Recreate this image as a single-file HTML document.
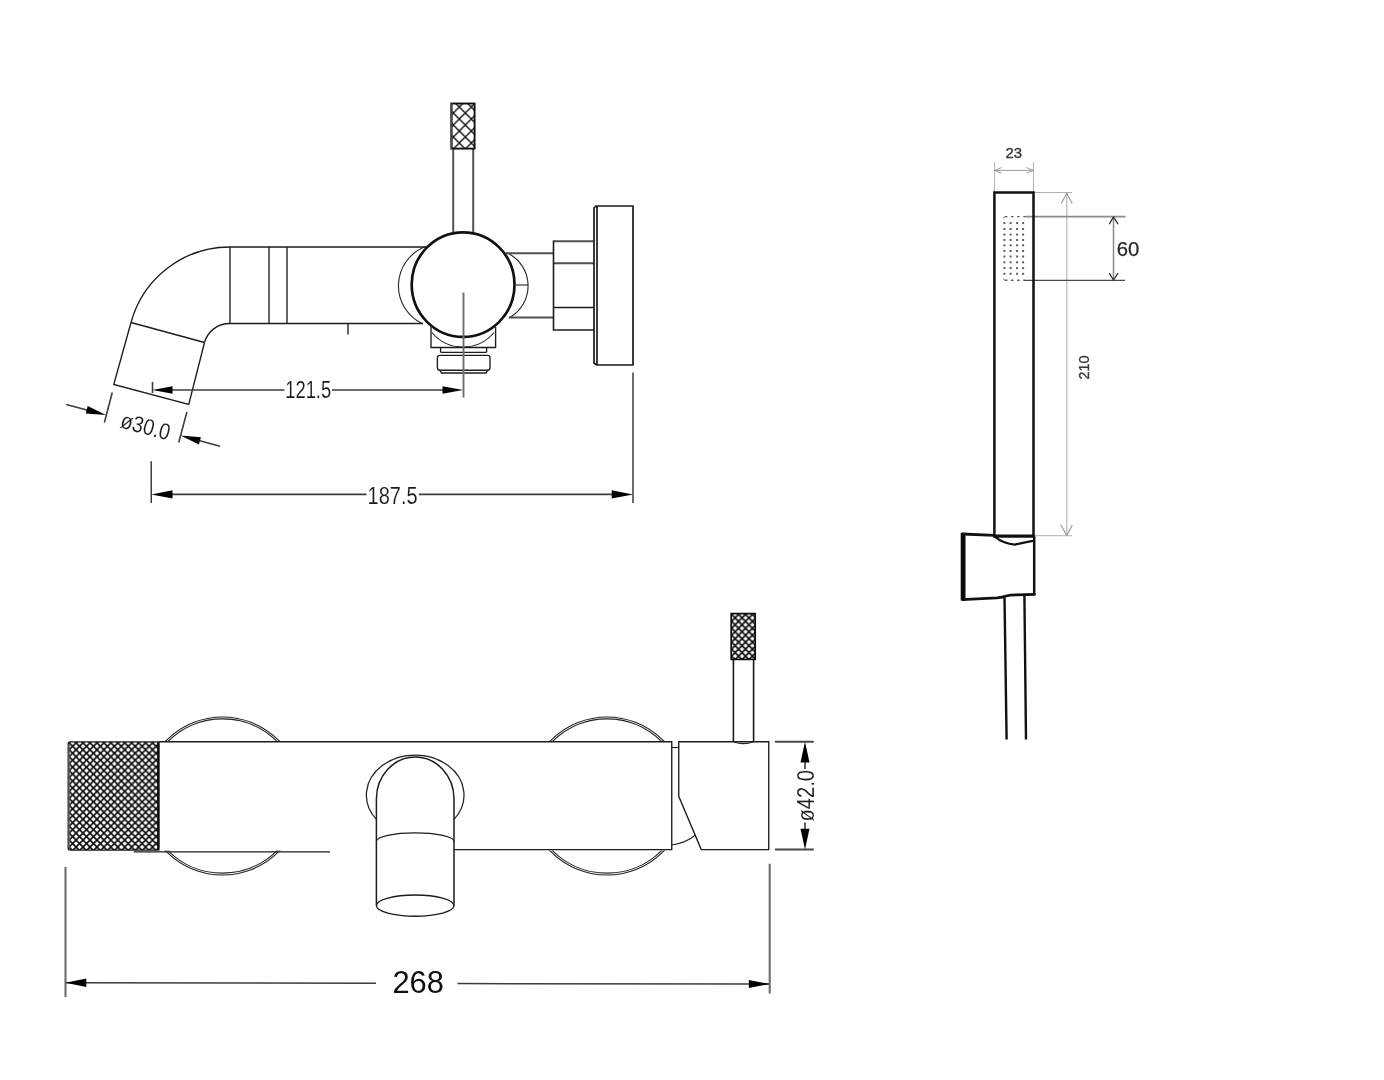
<!DOCTYPE html>
<html lang="en">
<head>
<meta charset="utf-8">
<title>Technical drawing</title>
<style>
html,body{margin:0;padding:0;background:#fff;}
body{width:1384px;height:1080px;overflow:hidden;}
svg{display:block;filter:grayscale(1);}
text{font-family:"Liberation Sans",sans-serif;}
.cad{fill:none;stroke:#1c1c1c;stroke-width:1.35;stroke-linecap:butt;stroke-linejoin:miter;}
.thin{fill:none;stroke:#222;stroke-width:1.1;}
.dim{fill:none;stroke:#3c3c3c;stroke-width:1.6;}
.ext{fill:none;stroke:#6e6e6e;stroke-width:2.1;}
.arr{fill:#000;stroke:none;}
.bold{fill:none;stroke:#111;stroke-width:2.5;stroke-linejoin:miter;}
.lg{fill:none;stroke:#a8a8a8;stroke-width:1;}
.cadtxt{fill:#1a1a1a;font-size:23px;stroke:#fff;stroke-width:0.12px;}
</style>
</head>
<body>
<svg width="1384" height="1080" viewBox="0 0 1384 1080">
<defs>
  <pattern id="knA" patternUnits="userSpaceOnUse" x="459.35" y="107" width="12" height="12">
    <path d="M-1,-1 L13,13 M13,-1 L-1,13" stroke="#111" stroke-width="1.4" fill="none"/>
  </pattern>
  <pattern id="knB" patternUnits="userSpaceOnUse" x="69.13" y="742.8" width="6.95" height="6.95">
    <path d="M-1,-1 L7.95,7.95 M7.95,-1 L-1,7.95" stroke="#0c0c0c" stroke-width="1.6" fill="none"/>
  </pattern>
  <pattern id="knC" patternUnits="userSpaceOnUse" x="731.6" y="614.4" width="6.95" height="6.95">
    <path d="M-1,-1 L7.95,7.95 M7.95,-1 L-1,7.95" stroke="#0c0c0c" stroke-width="1.65" fill="none"/>
  </pattern>
  <clipPath id="outsideBody">
    <rect x="0" y="600" width="1384" height="141.75"/>
    <rect x="0" y="850.6" width="1384" height="200"/>
  </clipPath>
  <g id="dotrow"><rect x="1003.4" y="-1" width="2" height="2"/><rect x="1009.6" y="-1" width="2" height="2"/><rect x="1016.1" y="-1" width="2" height="2"/><rect x="1022.1" y="-1" width="2" height="2"/></g>
</defs>
<rect x="0" y="0" width="1384" height="1080" fill="#ffffff"/>

<!-- ============ SIDE VIEW (top-left) ============ -->
<g id="side-view">
  <!-- spout -->
  <path class="cad" d="M230,247 H426 M230,323.5 H423"/>
  <path class="cad" d="M230,247 A102.4,102.4 0 0 0 131,322.5"/>
  <path class="cad" d="M230,323.5 A26,26 0 0 0 204.5,342.5"/>
  <path class="cad" d="M131,322.5 L204.5,342.5"/>
  <path class="cad" d="M131,322.5 L113.75,384.5 L188.75,404.5 L204.5,342.5"/>
  <path class="cad" d="M230,247 V323.5 M269,247 V323.5 M287,247 V323.5 M348,323.5 V334.5"/>
  <!-- back sphere arcs -->
  <path class="thin" d="M425.6,246.5 A42,42 0 0 0 422.5,323.75"/>
  <path class="thin" d="M506.25,252.5 A36.4,36.4 0 0 1 508.75,318"/>
  <path class="thin" d="M432,332.5 A40.4,40.4 0 0 0 494,332.5"/>
  <path class="thin" d="M516,285 H528"/>
  <!-- lever stem + knob -->
  <path class="ext" d="M453.2,149 V234 M473.2,149 V234" style="stroke:#555;stroke-width:2"/>
  <rect x="451.4" y="103.5" width="23.2" height="45.1" fill="url(#knA)" stroke="#111" stroke-width="1.9"/>
  <path d="M451.5,103 V149" stroke="#444" stroke-width="2" fill="none"/>
  <!-- main body circle -->
  <ellipse cx="463.1" cy="284.6" rx="51.4" ry="52.3" fill="none" stroke="#111" stroke-width="2.7"/>
  <!-- bottom outlet -->
  <path class="cad" d="M431,327 V347.5 H495.6 V327"/>
  <path class="cad" d="M440.6,347.5 V352.3 M486.6,347.5 V352.3 M440.6,352.3 H486.6"/>
  <path class="cad" d="M439.8,355.3 H487.7 Q490,355.3 490,357.6 V367.8 Q490,370.2 487.7,370.2 H439.8 Q437.4,370.2 437.4,367.8 V357.6 Q437.4,355.3 439.8,355.3 Z"/>
  <path class="cad" d="M439.8,370.2 L441.5,373 H486 L487.7,370.2"/>
  <!-- connector + hex nut + wall plate -->
  <path class="ext" d="M506,253.3 H553.5 M509,317.5 H553.5" style="stroke:#505050;stroke-width:2"/>
  <path class="ext" d="M553.5,241.3 H594 M553.5,263.2 H594" style="stroke:#505050;stroke-width:2"/>
  <path class="cad" d="M553.5,240.5 V330 H594 M553.5,307.5 H594" style="stroke-width:1.6"/>
  <path class="cad" d="M594,208 L596,206 H633 V365 H596.5 L594,363 Z M597,206 V365" style="stroke-width:1.7;stroke:#1a1a1a"/>
  <!-- centre line -->
  <path class="ext" d="M463.5,292.5 V397.5" style="stroke-width:1.9"/>
  <!-- dimension 121.5 -->
  <path class="dim" d="M152.5,382 V393"/>
  <path class="dim" d="M160,390 H284.5 M332,390 H456"/>
  <path class="arr" d="M152.5,390 L172.5,386.2 L172.5,393.8 Z"/>
  <path class="arr" d="M463,390 L442.5,386.2 L442.5,393.8 Z"/>
  <text class="cadtxt" x="285.2" y="398.2" textLength="46" lengthAdjust="spacingAndGlyphs">121.5</text>
  <!-- dimension dia 30.0 -->
  <path class="dim" d="M112.25,392.5 L104.4,422.5 M186.9,411.9 L178.75,442.5"/>
  <path class="dim" d="M66.25,404.4 L100,413.4 M186,437 L220,446.25"/>
  <path class="arr" d="M106,415 L85.7,413.4 L87.7,406.1 Z"/>
  <path class="arr" d="M180.6,435.6 L200.9,437.2 L198.9,444.5 Z"/>
  <g transform="translate(119.2,427.3) rotate(15.1)">
    <text class="cadtxt" x="0" y="0" textLength="50.5" lengthAdjust="spacingAndGlyphs">ø30.0</text>
  </g>
  <!-- dimension 187.5 -->
  <path class="dim" d="M151.25,461.3 V503 M633,372.5 V503" style="stroke-width:1.5"/>
  <path class="dim" d="M160,494.4 H366.5 M419,494.4 H625"/>
  <path class="arr" d="M151.25,494.4 L172.5,490.2 L172.5,498.6 Z"/>
  <path class="arr" d="M633,494.4 L611.7,490.2 L611.7,498.6 Z"/>
  <text class="cadtxt" x="367.6" y="503.6" textLength="50" lengthAdjust="spacingAndGlyphs">187.5</text>
</g>

<!-- ============ BOTTOM VIEW (bottom-left) ============ -->
<g id="bottom-view">
  <!-- wall plates (behind body) -->
  <g clip-path="url(#outsideBody)">
    <circle cx="222.5" cy="796" r="79" class="thin"/>
    <circle cx="222.5" cy="796" r="77.1" class="thin"/>
    <circle cx="607" cy="796" r="79" class="thin"/>
    <circle cx="607" cy="796" r="77.1" class="thin"/>
  </g>
  <!-- knurled end -->
  <rect x="68.2" y="741.9" width="90.4" height="108.2" rx="2" ry="2" fill="url(#knB)" stroke="#1a1a1a" stroke-width="1.3"/>
  <path d="M158.4,741.5 V850.5" stroke="#0c0c0c" stroke-width="2.4" fill="none"/>
  <path d="M68.9,744 V848" stroke="#555" stroke-width="1.6" fill="none"/>
  <!-- body -->
  <path class="cad" d="M159,741.75 H671.75 V849.6 H453.75"/>
  <path class="cad" d="M133.75,851.8 H330"/>
  <!-- spout seen from below -->
  <path class="thin" d="M376.4,819.4 A48.8,40 0 1 1 454,819.4" style="stroke-width:1.25"/>
  <path class="cad" d="M376.4,905.6 V799 A38.8,42 0 0 1 454,799 V905.6" style="stroke-width:1.5"/>
  <path class="cad" d="M376.4,841.3 A38.8,8.4 0 0 1 454,841.3"/>
  <ellipse class="cad" cx="415.2" cy="905.6" rx="38.8" ry="10.6"/>
  <!-- handle block -->
  <path class="cad" d="M678.75,741.75 H768.75 V849.6 H701.25 L678.75,796.25 Z"/>
  <path class="thin" d="M671.75,747.5 H678.75"/>
  <path class="thin" d="M671.75,845 Q686,843 695.5,835"/>
  <!-- lever stem + knob -->
  <path class="cad" d="M733.4,660 V741.75 M753.6,660 V741.75" style="stroke-width:1.6"/>
  <path class="thin" d="M733.4,741.75 Q743.5,745.5 753.6,741.75"/>
  <rect x="731.2" y="613.6" width="24" height="45.8" fill="url(#knC)" stroke="#0c0c0c" stroke-width="1.7"/>
  <!-- dimension dia 42.0 -->
  <path class="dim" d="M775,741.75 H813.75 M775,849.6 H813.75" style="stroke-width:2;stroke:#484848"/>
  <path class="dim" d="M805,748 V769 M805,822.5 V843"/>
  <path class="arr" d="M805,741.75 L800.5,762.5 L809.5,762.5 Z"/>
  <path class="arr" d="M805,849.6 L800.5,828.8 L809.5,828.8 Z"/>
  <g transform="translate(813.6,821.5) rotate(-90)">
    <text class="cadtxt" x="0" y="0" textLength="51.5" lengthAdjust="spacingAndGlyphs">ø42.0</text>
  </g>
  <!-- dimension 268 -->
  <path class="ext" d="M65.5,867 V997 M769.7,863.8 V993.5"/>
  <path class="dim" d="M66,982.8 L376,983.3 M457.5,983.6 L769,984" style="stroke-width:1.5"/>
  <path class="arr" d="M65.5,982.8 L86.3,978.6 L86.3,987 Z"/>
  <path class="arr" d="M769.7,984 L748.8,979.9 L748.8,988.1 Z"/>
  <text x="392.4" y="993.4" font-size="32" fill="#111" textLength="51.4" lengthAdjust="spacingAndGlyphs">268</text>
</g>

<!-- ============ HAND SHOWER (right) ============ -->
<g id="hand-shower">
  <!-- light dimension lines -->
  <path class="lg" d="M994.5,162 V192 M1033.5,162 V192" style="stroke:#b4b4b4"/>
  <path class="lg" d="M994.5,170.4 H1033.5" style="stroke:#9a9a9a"/>
  <path class="lg" d="M1001.5,167.6 L994.8,170.4 L1001.5,173.2 M1026.5,167.6 L1033.2,170.4 L1026.5,173.2" style="stroke:#9a9a9a"/>
  <path class="lg" d="M1034,192.5 H1072 M1034,535.7 H1072" style="stroke:#b0b0b0"/>
  <path class="lg" d="M1066.8,193 V535.5" style="stroke:#b0b0b0;stroke-width:1.1"/>
  <path class="lg" d="M1061.2,203.5 L1066.8,193.2 L1072.2,203.5 M1060.8,525 L1066.8,535.4 L1072.3,525" style="stroke:#9c9c9c;stroke-width:1.2"/>
  <!-- 60 dimension -->
  <path d="M1025,216.6 H1125.6" fill="none" stroke="#8c8c8c" stroke-width="1.6"/>
  <path d="M1025,280.3 H1125" fill="none" stroke="#4a4a4a" stroke-width="1.2"/>
  <path d="M1113.5,217.5 V279.5" fill="none" stroke="#8a8a8a" stroke-width="1.5"/>
  <path d="M1109.3,224.3 Q1111.6,220 1113.5,217.2 Q1115.6,220 1118,224.3 M1109.3,273 Q1111.6,277 1113.5,280 Q1115.6,277 1118,273" fill="none" stroke="#2a2a2a" stroke-width="1.3"/>
  <!-- spray face dots -->
  <path d="M1005,216.6 H1025 M1005,280.3 H1025" fill="none" stroke="#555" stroke-width="1.4" stroke-dasharray="2.4,3.7"/>
  <path d="M1005,216.8 Q1003.4,217 1003.3,218.6 M1005,280.2 Q1003.4,280 1003.3,278.4" fill="none" stroke="#777" stroke-width="1"/>
  <g fill="#5e5e5e">
    <use href="#dotrow" y="223.1"/>
    <use href="#dotrow" y="229.0"/>
    <use href="#dotrow" y="234.6"/>
    <use href="#dotrow" y="240.0"/>
    <use href="#dotrow" y="245.3"/>
    <use href="#dotrow" y="251.0"/>
    <use href="#dotrow" y="256.5"/>
    <use href="#dotrow" y="262.3"/>
    <use href="#dotrow" y="268.1"/>
    <use href="#dotrow" y="273.8"/>
  </g>
  <!-- body -->
  <path class="bold" d="M994.4,536.3 V192.5 H1033.5 V536.3"/>
  <path class="bold" d="M993.2,536.2 H1034.7" style="stroke-width:3.2"/>
  <!-- holder -->
  <path d="M963.1,532.8 V600.6" fill="none" stroke="#0a0a0a" stroke-width="4.8"/>
  <path class="bold" d="M962,534 L994.4,535.3" style="stroke-width:2.8"/>
  <path class="bold" d="M1034.2,536.3 V595"/>
  <path class="bold" d="M962,599.6 L997,597.9 Q1003,597.3 1006,596 Q1010,595 1016,594.9 L1035.4,594.3" style="stroke-width:2.8"/>
  <path class="bold" d="M994.4,536.3 Q1003,543.5 1015,544.6 Q1025,542.4 1034.2,540.6" style="stroke-width:2.3"/>
  <!-- hose -->
  <path class="bold" d="M1004.5,596.5 L1006.6,739.5 M1024.4,594.5 L1026,739.5" style="stroke-width:2.4"/>
  <!-- labels -->
  <text x="1005.4" y="158.4" font-size="14.2" fill="#3a3a3a" stroke="#3a3a3a" stroke-width="0.4" textLength="16.6" lengthAdjust="spacingAndGlyphs">23</text>
  <text x="1116.8" y="255.9" font-size="20.4" fill="#262626" stroke="#262626" stroke-width="0.25" textLength="22.6" lengthAdjust="spacingAndGlyphs">60</text>
  <g transform="translate(1088.6,379.6) rotate(-90)">
    <text x="0" y="0" font-size="14.4" fill="#3a3a3a" stroke="#3a3a3a" stroke-width="0.4" textLength="24" lengthAdjust="spacingAndGlyphs">210</text>
  </g>
</g>
</svg>
</body>
</html>
